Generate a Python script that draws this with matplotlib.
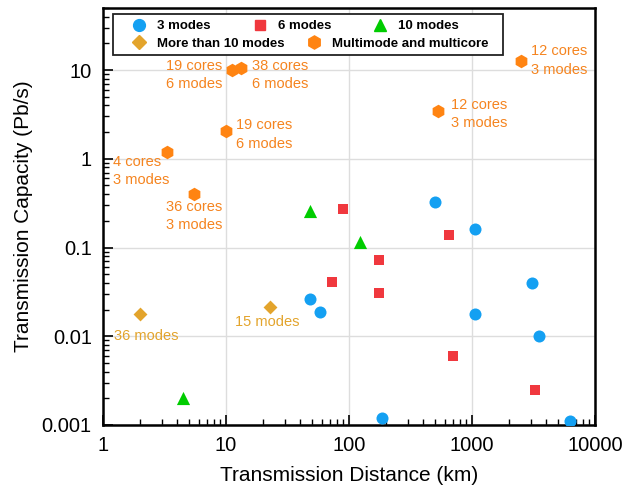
import matplotlib.pyplot as plt
from matplotlib.patches import Rectangle
from matplotlib.lines import Line2D

plt.rcParams['font.family'] = ['Liberation Sans', 'DejaVu Sans']

# distance (km), capacity (Pb/s) per fibre type
modes3_dist = [500, 1050, 48, 58, 1050, 3050, 3500, 185, 6300]
modes3_cap = [0.33, 0.16, 0.026, 0.019, 0.018, 0.04, 0.01, 0.0012, 0.0011]

modes6_dist = [90, 650, 175, 73, 175, 700, 3250]
modes6_cap = [0.27, 0.14, 0.072, 0.041, 0.031, 0.006, 0.0025]

modes10_dist = [4.5, 48, 122]
modes10_cap = [0.002, 0.26, 0.115]

many_modes_dist = [2, 23]
many_modes_cap = [0.018, 0.0215]
many_modes_labels = ['36 modes', '15 modes']

mcmm_dist = [3.3, 5.5, 10, 11.2, 13.2, 530, 2500]
mcmm_cap = [1.2, 0.4, 2.05, 10.1, 10.6, 3.5, 12.5]
mcmm_labels = ['4 cores\n3 modes', '36 cores\n3 modes', '19 cores\n6 modes',
               '19 cores\n6 modes', '38 cores\n6 modes', '12 cores\n3 modes',
               '12 cores\n3 modes']

c_blue = '#14a0f2'
c_red = '#f0383e'
c_green = '#00cc00'
c_gold = '#e3a42c'
c_orange = '#ff8412'
c_orange_txt = '#f5841f'

fig = plt.figure(figsize=(6.26, 4.92), dpi=100)
ax = fig.add_axes([0.1645, 0.1362, 0.786, 0.8475])

ax.scatter(modes3_dist, modes3_cap, marker='o', s=75, color=c_blue, zorder=3, linewidths=0)
ax.scatter(modes6_dist, modes6_cap, marker='s', s=55, color=c_red, zorder=3, linewidths=0)
ax.scatter(modes10_dist, modes10_cap, marker='^', s=90, color=c_green, zorder=3, linewidths=0)
ax.scatter(many_modes_dist, many_modes_cap, marker='D', s=50, color=c_gold, zorder=3, linewidths=0)
ax.scatter(mcmm_dist, mcmm_cap, marker='h', s=95, color=c_orange, zorder=3, linewidths=0)

# label offsets in pixels (dx, dy, ha, va)
mcmm_offsets = [(-54, -3, 'left', 'top'), (0, -6, 'center', 'top'),
                (10, 13, 'left', 'top'), (-10, 11, 'right', 'top'),
                (11, 9, 'left', 'top'), (13, 13, 'left', 'top'),
                (10, 17, 'left', 'top')]
for x, y, txt, (dx, dy, ha, va) in zip(mcmm_dist, mcmm_cap, mcmm_labels, mcmm_offsets):
    ax.annotate(txt, (x, y), xytext=(dx, dy), textcoords='offset pixels',
                ha=ha, va=va, fontsize=10.5, color=c_orange_txt, linespacing=1.4)

many_offsets = [(6, -22), (-3, -15)]
for x, y, txt, (dx, dy) in zip(many_modes_dist, many_modes_cap, many_modes_labels, many_offsets):
    ax.annotate(txt, (x, y), xytext=(dx, dy), textcoords='offset pixels',
                ha='center', va='center', fontsize=10.5, color=c_gold)

ax.set_xscale('log')
ax.set_yscale('log')
ax.set_xlim(1, 10000)
ax.set_ylim(0.001, 50)
ax.set_xticks([1, 10, 100, 1000, 10000])
ax.set_xticklabels(['1', '10', '100', '1000', '10000'])
ax.set_yticks([0.001, 0.01, 0.1, 1, 10])
ax.set_yticklabels(['0.001', '0.01', '0.1', '1', '10'])
ax.grid(True, which='major', color='#dddddd', linewidth=1)
ax.set_axisbelow(True)
ax.tick_params(which='major', direction='in', length=7, width=1.2, labelsize=14.5, pad=8)
ax.tick_params(which='minor', direction='in', length=4, width=1)
ax.tick_params(right=False, top=False, which='both')
for sp in ax.spines.values():
    sp.set_linewidth(1.8)

ax.set_xlabel('Transmission Distance (km)', fontsize=15, labelpad=8)
ax.set_ylabel('Transmission Capacity (Pb/s)', fontsize=15, labelpad=6)

# two-row legend inside a single frame
def handle(marker, color, ms):
    return Line2D([], [], marker=marker, color=color, linestyle='none', markersize=ms)

row1 = [handle('o', c_blue, 8.5), handle('s', c_red, 7.5), handle('^', c_green, 9)]
row2 = [handle('D', c_gold, 7), handle('h', c_orange, 9.5)]
leg_kw = dict(frameon=False, prop={'weight': 'bold', 'size': 9.5}, handletextpad=0.6,
              handlelength=1.5, borderaxespad=0, borderpad=0)
leg1 = ax.legend(row1, ['3 modes', '6 modes', '10 modes'], ncol=3, columnspacing=3.0,
                 loc='center left', bbox_to_anchor=(0.053, 0.956), **leg_kw)
ax.add_artist(leg1)
ax.legend(row2, ['More than 10 modes', 'Multimode and multicore'], ncol=2, columnspacing=1.5,
          loc='center left', bbox_to_anchor=(0.053, 0.915), **leg_kw)
ax.add_patch(Rectangle((0.02, 0.887), 0.793, 0.099, transform=ax.transAxes,
                       facecolor='white', edgecolor='#222222', linewidth=1.3, zorder=4))

fig.savefig('out.png', dpi=100)
